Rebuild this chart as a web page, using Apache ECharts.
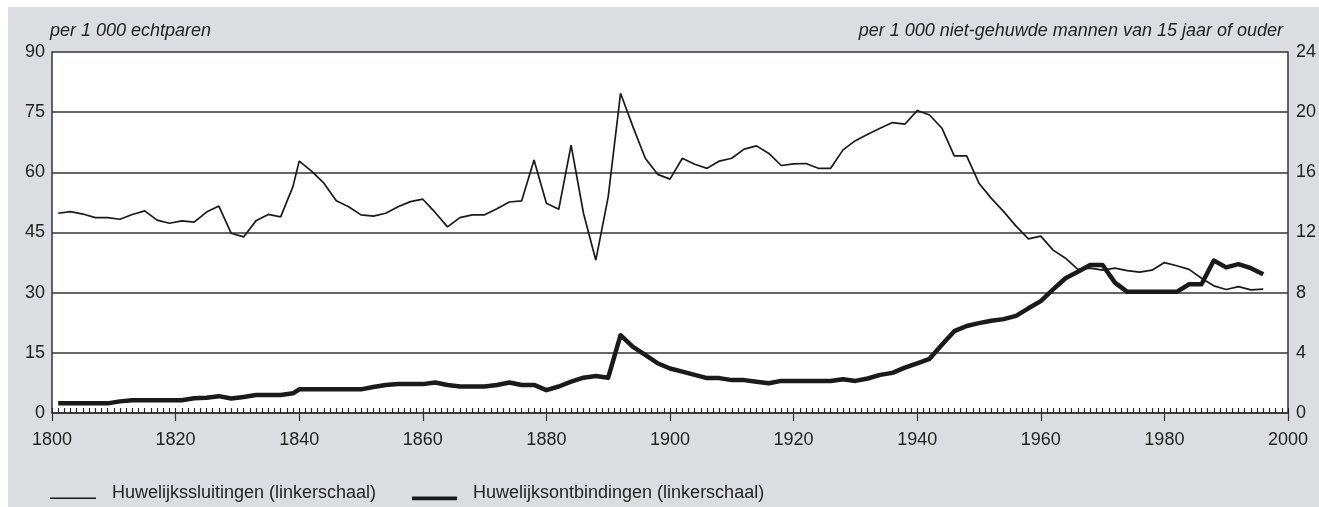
<!DOCTYPE html>
<html>
<head>
<meta charset="utf-8">
<script src="https://cdn.jsdelivr.net/npm/echarts@6/dist/echarts.min.js"></script>
<style>
    html, body { margin: 0; padding: 0; background: #fff; }
    #chart { width: 1319px; height: 507px; }
</style>
</head>
<body>
<div id="chart"></div>
<script>
// jaren (x-as)
const years = [
    1801, 1803, 1805, 1807, 1809, 1811, 1813, 1815, 1817, 1819,
    1821, 1823, 1825, 1827, 1829, 1831, 1833, 1835, 1837, 1839,
    1840, 1842, 1844, 1846, 1848, 1850, 1852, 1854, 1856, 1858,
    1860, 1862, 1864, 1866, 1868, 1870, 1872, 1874, 1876, 1878,
    1880, 1882, 1884, 1886, 1888, 1890, 1892, 1894, 1896, 1898,
    1900, 1902, 1904, 1906, 1908, 1910, 1912, 1914, 1916, 1918,
    1920, 1922, 1924, 1926, 1928, 1930, 1932, 1934, 1936, 1938,
    1940, 1942, 1944, 1946, 1948, 1950, 1952, 1954, 1956, 1958,
    1960, 1962, 1964, 1966, 1968, 1970, 1972, 1974, 1976, 1978,
    1980, 1982, 1984, 1986, 1988, 1990, 1992, 1994, 1996
];
// Huwelijkssluitingen (linkerschaal)
const sluitingen = [
    49.8, 50.2, 49.6, 48.7, 48.7, 48.3, 49.5, 50.4, 48.1, 47.3,
    47.9, 47.6, 50.1, 51.6, 44.8, 43.9, 47.9, 49.5, 48.9, 56.5,
    62.8, 60.3, 57.3, 52.9, 51.4, 49.4, 49.1, 49.8, 51.4, 52.7,
    53.3, 50.0, 46.4, 48.7, 49.4, 49.4, 50.9, 52.6, 52.9, 63.1,
    52.3, 50.8, 66.8, 49.8, 38.1, 53.9, 79.7, 71.4, 63.5, 59.5,
    58.3, 63.5, 62.0, 61.0, 62.8, 63.5, 65.8, 66.6, 64.7, 61.7,
    62.1, 62.2, 61.0, 61.0, 65.6, 67.9, 69.5, 71.0, 72.4, 72.0,
    75.4, 74.3, 71.0, 64.1, 64.1, 57.3, 53.5, 50.2, 46.6, 43.4,
    44.1, 40.6, 38.6, 35.8, 36.1, 35.6, 36.1, 35.5, 35.1, 35.6,
    37.5, 36.7, 35.8, 33.6, 31.7, 30.8, 31.5, 30.7, 30.9
];
// Huwelijksontbindingen (linkerschaal)
const ontbindingen = [
    2.4, 2.4, 2.4, 2.4, 2.4, 2.9, 3.2, 3.2, 3.2, 3.2,
    3.2, 3.7, 3.8, 4.2, 3.6, 4.0, 4.5, 4.5, 4.5, 4.9,
    5.9, 5.9, 5.9, 5.9, 5.9, 5.9, 6.5, 7.0, 7.2, 7.2,
    7.2, 7.6, 7.0, 6.6, 6.6, 6.6, 7.0, 7.6, 7.0, 7.0,
    5.7, 6.6, 7.8, 8.8, 9.2, 8.8, 19.4, 16.5, 14.5, 12.4,
    11.1, 10.3, 9.5, 8.7, 8.7, 8.2, 8.2, 7.8, 7.4, 8.0,
    8.0, 8.0, 8.0, 8.0, 8.4, 8.0, 8.6, 9.5, 10.0, 11.3,
    12.4, 13.5, 17.0, 20.4, 21.7, 22.4, 23.0, 23.4, 24.2, 26.1,
    27.9, 30.8, 33.6, 35.2, 36.9, 36.9, 32.5, 30.2, 30.2, 30.2,
    30.2, 30.2, 32.1, 32.1, 38.0, 36.3, 37.1, 36.1, 34.6
];

const fontFam = '"Liberation Sans", Arial, sans-serif';
const ink = '#222';

// legendasymbolen: streep onderaan het vak
const thinIcon = 'path://M0,0 L0,0 M0,26 L100,26 L100,29 L0,29 Z M0,32 L0,32';
const thickIcon = 'path://M0,0 L0,0 M0,24 L100,24 L100,32 L0,32 Z';

const chart = echarts.init(document.getElementById('chart'));

const option = {
    animation: false,
    backgroundColor: '#fff',
    textStyle: { fontFamily: fontFam },
    graphic: [
        {
            type: 'rect', z: -10, silent: true,
            shape: { x: 8, y: 7, width: 1311, height: 500 },
            style: { fill: '#dcdde0' }
        },
        {
            type: 'text', left: 50, top: 22,
            style: { text: 'per 1 000 echtparen', font: 'italic 18px ' + fontFam, fill: ink }
        },
        {
            type: 'text', right: 36, top: 22,
            style: { text: 'per 1 000 niet-gehuwde mannen van 15 jaar of ouder', font: 'italic 18px ' + fontFam, fill: ink }
        }
    ],
    grid: {
        left: 52, right: 26, top: 52, bottom: 94,
        show: true, backgroundColor: '#fff', borderWidth: 0
    },
    legend: [
        {
            left: 45, top: 479,
            data: ['Huwelijkssluitingen (linkerschaal)'],
            icon: thinIcon, itemWidth: 46, itemHeight: 16,
            textStyle: { fontSize: 18, color: ink, padding: [0, 0, 0, 11] }
        },
        {
            left: 407, top: 479,
            data: ['Huwelijksontbindingen (linkerschaal)'],
            icon: thickIcon, itemWidth: 45, itemHeight: 16,
            textStyle: { fontSize: 18, color: ink, padding: [0, 0, 0, 11] }
        }
    ],
    xAxis: [
        {
            type: 'value', min: 1800, max: 2000, interval: 20,
            position: 'bottom',
            axisLine: { show: true, lineStyle: { color: '#333', width: 1.5 } },
            axisTick: { show: true, inside: false, length: 8, lineStyle: { color: '#333', width: 1.2 } },
            axisLabel: { fontSize: 18, color: ink, margin: 18, formatter: v => String(v) },
            splitLine: { show: false }
        },
        {
            type: 'value', min: 1800, max: 2000, interval: 1,
            position: 'bottom', offset: 0,
            axisLine: { show: false },
            axisTick: { show: true, inside: true, length: 5, lineStyle: { color: '#222', width: 1.1 } },
            axisLabel: { show: false },
            splitLine: { show: false }
        }
    ],
    yAxis: [
        {
            type: 'value', min: 0, max: 90, interval: 15,
            position: 'left',
            axisLine: { show: true, lineStyle: { color: '#333', width: 1.5 } },
            axisTick: { show: false },
            axisLabel: { fontSize: 18, color: ink, margin: 7 },
            splitLine: { show: true, lineStyle: { color: '#333', width: 1.5 } }
        },
        {
            type: 'value', min: 0, max: 24, interval: 4,
            position: 'right',
            axisLine: { show: true, lineStyle: { color: '#333', width: 1.5 } },
            axisTick: { show: false },
            axisLabel: { fontSize: 18, color: ink, margin: 8 },
            splitLine: { show: false }
        }
    ],
    series: [
        {
            name: 'Huwelijkssluitingen (linkerschaal)',
            type: 'line',
            xAxisIndex: 0, yAxisIndex: 0,
            symbol: 'none', showSymbol: false,
            data: years.map((y, i) => [y, sluitingen[i]]),
            lineStyle: { color: '#1a1a1a', width: 1.7 },
            itemStyle: { color: '#1a1a1a' },
            z: 3
        },
        {
            name: 'Huwelijksontbindingen (linkerschaal)',
            type: 'line',
            xAxisIndex: 0, yAxisIndex: 0,
            symbol: 'none', showSymbol: false,
            data: years.map((y, i) => [y, ontbindingen[i]]),
            lineStyle: { color: '#1a1a1a', width: 4.5, join: 'round' },
            itemStyle: { color: '#1a1a1a' },
            z: 4
        }
    ]
};

chart.setOption(option);
</script>
</body>
</html>
